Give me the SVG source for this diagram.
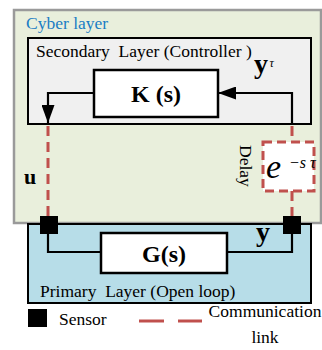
<svg xmlns="http://www.w3.org/2000/svg" width="322" height="350" viewBox="0 0 322 350">
<style>
text{font-family:"Liberation Serif","Times New Roman",serif;fill:#000}
.lbl{font-size:17.5px}
.blk{fill:none;stroke:#000;stroke-width:2.2}
.link{fill:none;stroke:#c0504d;stroke-width:3;stroke-dasharray:10 6}
.sensor{fill:#000}
</style>
<defs>
<marker id="arr" viewBox="0 0 10 10" refX="10" refY="5" markerWidth="18" markerHeight="13" markerUnits="userSpaceOnUse" orient="auto" preserveAspectRatio="none">
<path d="M0,0 L10,5 L0,10 z" fill="#000"/>
</marker>
</defs>
<rect width="322" height="350" fill="#fff"/>
<g id="cyber">
<rect x="14" y="10" width="307" height="213" fill="#e9efdc" stroke="#9a9a9a" stroke-width="2.5"/>
<text x="26" y="29" class="lbl" style="fill:#1a7dc4">Cyber layer</text>
</g>
<g id="secondary">
<rect x="28" y="38" width="283" height="86" fill="#f0f0f0" stroke="#000" stroke-width="2"/>
<text x="36" y="57" class="lbl" xml:space="preserve">Secondary  Layer (Controller )</text>
</g>
<g id="primary">
<rect x="28" y="224" width="283" height="79" fill="#b7dde8" stroke="#000" stroke-width="2"/>
<text x="40" y="297" class="lbl" xml:space="preserve">Primary  Layer (Open loop)</text>
</g>
<g id="K">
<rect x="94" y="70" width="124" height="47" fill="#fff" stroke="#000" stroke-width="2.5"/>
<text x="156" y="102" text-anchor="middle" font-size="24" font-weight="bold">K (s)</text>
</g>
<g id="G">
<rect x="101" y="233" width="126" height="40" fill="#fff" stroke="#000" stroke-width="2.5"/>
<text x="164" y="262" text-anchor="middle" font-size="24" font-weight="bold">G(s)</text>
</g>
<g id="delay">
<rect x="263" y="142" width="51" height="49" fill="#fff" stroke="#c0504d" stroke-width="3" stroke-dasharray="9 5"/>
<text x="266" y="178" font-size="34" font-style="italic">e</text>
<text x="289" y="168" font-size="16" font-style="italic">−s τ</text>
<text transform="translate(240,145) rotate(90)" class="lbl">Delay</text>
</g>
<g id="connectors">
<polyline class="blk" points="94,93 48,93 48,123" marker-end="url(#arr)"/>
<polyline class="blk" points="292,124 292,93 218,93" marker-end="url(#arr)"/>
<polyline class="blk" points="48,225 48,252 101,252"/>
<polyline class="blk" points="292,225 292,252 227,252"/>
<line class="link" x1="48" y1="126" x2="48" y2="216"/>
<line class="link" x1="292" y1="126" x2="292" y2="142"/>
<line class="link" x1="292" y1="191" x2="292" y2="216"/>
</g>
<g id="labels">
<text x="24" y="184" font-size="22" font-weight="bold">u</text>
<text x="254" y="73" font-size="28" font-weight="bold">y</text>
<text x="269.5" y="67" font-size="12" font-style="italic">τ</text>
<text x="256" y="241" font-size="28" font-weight="bold">y</text>
</g>
<g id="sensors">
<rect class="sensor" x="40" y="216" width="18" height="18"/>
<rect class="sensor" x="283" y="216" width="18" height="18"/>
</g>
<g id="legend">
<rect class="sensor" x="28" y="309" width="19" height="18"/>
<text x="59" y="325" class="lbl">Sensor</text>
<line x1="139" y1="321" x2="164" y2="321" stroke="#c0504d" stroke-width="3"/>
<line x1="178" y1="321" x2="202" y2="321" stroke="#c0504d" stroke-width="3"/>
<text x="265" y="317" text-anchor="middle" class="lbl">Communication</text>
<text x="265" y="343" text-anchor="middle" class="lbl">link</text>
</g>
</svg>
